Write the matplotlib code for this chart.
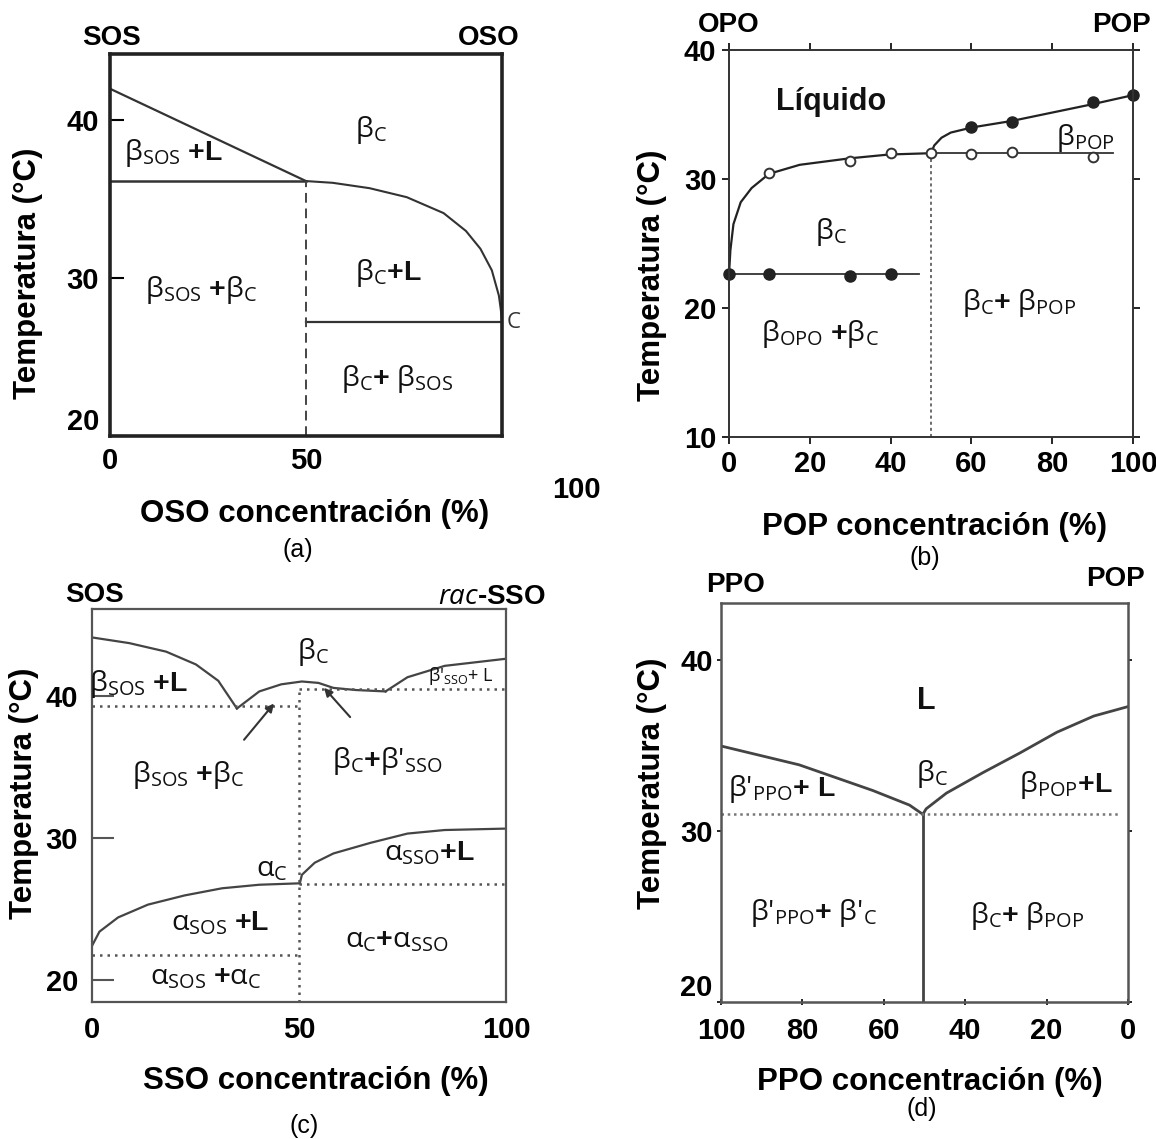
import numpy as np
import matplotlib
matplotlib.use('Agg')
import matplotlib.pyplot as plt

plt.rcParams['mathtext.fontset'] = 'custom'
plt.rcParams['mathtext.rm'] = 'Open Sans'
plt.rcParams['mathtext.it'] = 'Open Sans:italic'
plt.rcParams['mathtext.bf'] = 'Liberation Sans:bold'

W, H = 1156, 1139
EJE = ['Liberation Sans', 'DejaVu Sans']
FASE = ['Open Sans', 'DejaVu Sans']

# ---------------- (a) SOS - OSO ----------------
a_liq_x = [0, 50]
a_liq_t = [42.0, 36.15]
a_eut_t = 36.15
a_curva_x = [50, 56.8, 66.2, 75.7, 85.1, 90.8, 94.5, 97.4, 99.2, 99.7, 100]
a_curva_t = [36.15, 36.04, 35.70, 35.13, 34.12, 32.99, 31.86, 30.5, 28.9, 28.0, 27.2]
a_per_t = 27.2

# ---------------- (b) OPO - POP ----------------
b_sol_x = [0, 10, 30, 40]
b_sol_t = [22.6, 22.6, 22.5, 22.6]
b_abierto_x = [10, 30, 40, 50, 60, 70, 90]
b_abierto_t = [30.5, 31.4, 32.0, 32.0, 31.9, 32.1, 31.7]
b_liq_x = [60, 70, 90, 100]
b_liq_t = [34.0, 34.4, 36.0, 36.5]
b_curva1_x = [0, 0.35, 1.1, 2.9, 5.6, 9.9, 17.5, 29.8, 39.7, 50]
b_curva1_t = [22.6, 24.5, 26.5, 28.2, 29.3, 30.4, 31.1, 31.6, 31.9, 32.0]
b_curva2_x = [50, 50.8, 52.6, 54.9, 60.2, 70, 90, 100]
b_curva2_t = [32.0, 32.6, 33.2, 33.6, 34.0, 34.5, 35.8, 36.5]

# ---------------- (c) SOS - rac-SSO ----------------
c_liq1_x = [0, 9, 17.9, 25.1, 30.5, 35]
c_liq1_t = [44.1, 43.7, 43.1, 42.2, 41.05, 39.1]
c_liq2_x = [35, 40.4, 45.7, 50.7, 54.7, 58.3, 63.7, 70.9]
c_liq2_t = [39.1, 40.3, 40.8, 41.0, 40.9, 40.55, 40.4, 40.3]
c_liq3_x = [70.9, 76.2, 85.2, 100]
c_liq3_t = [40.3, 41.3, 42.1, 42.6]
c_alfa1_x = [0, 1.8, 6.3, 13.5, 22.4, 31.4, 40.4, 50.2]
c_alfa1_t = [22.4, 23.4, 24.4, 25.3, 25.95, 26.45, 26.7, 26.8]
c_alfa2_x = [50.2, 50.7, 53.8, 58.3, 67.3, 76.2, 85.2, 100]
c_alfa2_t = [26.8, 27.4, 28.25, 28.9, 29.65, 30.3, 30.55, 30.65]
c_pun_t = [39.26, 40.46, 26.78, 21.74]

# ---------------- (d) PPO - POP ----------------
d_izq_x = [100, 80.8, 62.7, 53.7, 50.4]
d_izq_t = [34.95, 33.85, 32.35, 31.5, 30.96]
d_der_x = [50.4, 49.6, 44.6, 35.6, 26.5, 17.5, 8.4, 0]
d_der_t = [30.96, 31.28, 32.2, 33.4, 34.55, 35.75, 36.7, 37.25]
d_pun_t = 30.96

TAM_EJE = 22.5    # titulos de eje
TAM_TICK = 21     # numeros
TAM_FASE = 20.5   # etiquetas de fase
TAM_ESQ = 20      # SOS, OSO...

fig = plt.figure(figsize=(11.56, 11.39), dpi=100)


def caja(x0, y0, x1, y1):
    return fig.add_axes([x0 / W, 1 - y1 / H, (x1 - x0) / W, (y1 - y0) / H])


def ft(px, py, s, size=TAM_EJE, **kw):
    fig.text(px / W, 1 - py / H, s, ha='center', va='center', fontsize=size,
             family=EJE, **kw)


def fase(ax, x, t, s, size=TAM_FASE, **kw):
    ax.text(x, t, s, ha='center', va='center', fontsize=size, color='#111', **kw)


def bordes(ax, lw, color):
    for sp in ax.spines.values():
        sp.set_linewidth(lw)
        sp.set_color(color)


def ticklabels(ax):
    for lb in ax.get_xticklabels() + ax.get_yticklabels():
        lb.set_fontweight('bold')
        lb.set_family(EJE)
        lb.set_fontsize(TAM_TICK)


def f(ax, x, t, s, size=TAM_FASE):
    fase(ax, x, t, s, size=size, family=FASE)


def negrita(ax, x, t, s, size):
    fase(ax, x, t, s, size=size, family=EJE, fontweight='bold')


# ===== (a) =====
ax = caja(110, 54, 502, 436)
ax.set_xlim(0, 100)
ax.set_ylim(20, 44.2)
bordes(ax, 2.6, '#222')
ax.plot(a_liq_x, a_liq_t, color='#333', lw=1.6)
ax.plot([0, 50], [a_eut_t, a_eut_t], color='#333', lw=1.8)
ax.plot(a_curva_x, a_curva_t, color='#333', lw=1.5)
ax.plot([50, 100], [a_per_t, a_per_t], color='#333', lw=1.6)
ax.plot([50, 50], [20, a_eut_t], color='#444', lw=1.4, ls=(0, (5, 3)))
ax.text(101.2, a_per_t, 'C', ha='left', va='center', fontsize=16,
        family=FASE, color='#333')
ax.set_yticks([20, 30, 40])
ax.set_xticks([0, 50])
ax.tick_params(axis='y', direction='in', length=10, width=1.5, pad=8)
ax.tick_params(axis='x', length=0, pad=8)
ticklabels(ax)
ax.get_yticklabels()[0].set_verticalalignment('bottom')
f(ax, 16.2, 37.95, r'β$_{\mathrm{SOS}}$ $\mathbf{+L}$')
f(ax, 66.7, 39.4, r'β$_{\mathrm{C}}$')
f(ax, 23.3, 29.25, r'β$_{\mathrm{SOS}}$ $\mathbf{+}$β$_{\mathrm{C}}$')
f(ax, 70.9, 30.3, r'β$_{\mathrm{C}}\mathbf{+L}$')
f(ax, 73.3, 23.6, r'β$_{\mathrm{C}}\mathbf{+}$ β$_{\mathrm{SOS}}$')
ft(28, 273, 'Temperatura (°C)', rotation=90, fontweight='bold')
ft(315, 514, 'OSO concentración (%)', fontweight='bold')
ft(298, 550, '(a)', size=18)
ft(112, 38, 'SOS', size=TAM_ESQ, fontweight='bold')
ft(489, 38, 'OSO', size=TAM_ESQ, fontweight='bold')
ft(576, 490, '100', size=TAM_TICK, fontweight='bold')

# ===== (b) =====
ax = caja(729, 50, 1133, 437)
ax.set_xlim(0, 100)
ax.set_ylim(10, 40)
bordes(ax, 1.4, '#333')
ax.plot(b_curva1_x, b_curva1_t, color='#222', lw=1.6)
ax.plot(b_curva2_x, b_curva2_t, color='#222', lw=1.6)
ax.plot([50, 95], [32.0, 32.0], color='#333', lw=1.3)
ax.plot([0, 47], [22.6, 22.6], color='#333', lw=1.3)
ax.plot([50, 50], [10, 32.0], color='#444', lw=1.1, ls=(0, (2, 2)))
ax.plot(b_sol_x, b_sol_t, 'o', color='#222', ms=8, clip_on=False)
ax.plot(b_liq_x, b_liq_t, 'o', color='#222', ms=8, clip_on=False)
ax.plot(b_abierto_x, b_abierto_t, 'o', mfc='white', mec='#333', mew=1.4, ms=7)
ax.set_yticks([10, 20, 30, 40])
ax.set_xticks([0, 20, 40, 60, 80, 100])
ax.tick_params(direction='out', length=5, width=1.2, top=True, right=True,
               pad=4)
ticklabels(ax)
negrita(ax, 25.3, 35.95, 'Líquido', 22)
f(ax, 25.3, 25.9, r'β$_{\mathrm{C}}$')
f(ax, 88.2, 33.2, r'β$_{\mathrm{POP}}$')
f(ax, 22.5, 18.0, r'β$_{\mathrm{OPO}}$ $\mathbf{+}$β$_{\mathrm{C}}$')
f(ax, 71.7, 20.4, r'β$_{\mathrm{C}}\mathbf{+}$ β$_{\mathrm{POP}}$')
ft(652, 275, 'Temperatura (°C)', rotation=90, fontweight='bold')
ft(934, 527, 'POP concentración (%)', fontweight='bold')
ft(925, 558, '(b)', size=18)
ft(729, 25, 'OPO', size=TAM_ESQ, fontweight='bold')
ft(1121, 25, 'POP', size=TAM_ESQ, fontweight='bold')

# ===== (c) =====
ax = caja(92, 609, 506, 1002)
ax.set_xlim(0, 100)
ax.set_ylim(18.45, 46.1)
bordes(ax, 1.6, '#555')
for xs, ts in [(c_liq1_x, c_liq1_t), (c_liq2_x, c_liq2_t), (c_liq3_x, c_liq3_t),
               (c_alfa1_x, c_alfa1_t), (c_alfa2_x, c_alfa2_t)]:
    ax.plot(xs, ts, color='#444', lw=1.6)
pun = dict(color='#555', lw=1.8, ls=(0, (1, 2)))
ax.plot([0, 50], [c_pun_t[0]] * 2, **pun)
ax.plot([50, 100], [c_pun_t[1]] * 2, **pun)
ax.plot([50, 100], [c_pun_t[2]] * 2, **pun)
ax.plot([0, 50], [c_pun_t[3]] * 2, **pun)
ax.plot([50, 50], [18.45, c_pun_t[1]], **pun)
flecha = dict(arrowstyle='-|>', color='#333', lw=1.5, mutation_scale=12)
ax.annotate('', xy=(44.4, 39.6), xytext=(36.3, 36.75), arrowprops=flecha)
ax.annotate('', xy=(55.6, 40.7), xytext=(62.8, 38.35), arrowprops=flecha)
ax.set_yticks([20, 30, 40])
ax.set_xticks([0, 50, 100])
ax.tick_params(axis='y', direction='in', length=16, width=1.5, color='#555',
               pad=10)
ax.tick_params(axis='x', length=0, pad=10)
ticklabels(ax)
f(ax, 11.2, 40.8, r'β$_{\mathrm{SOS}}$ $\mathbf{+L}$')
f(ax, 53.4, 43.1, r'β$_{\mathrm{C}}$')
f(ax, 89.0, 41.4, r"β'$_{\mathrm{SSO}}$+ L", size=13)
f(ax, 23.3, 34.4, r'β$_{\mathrm{SOS}}$ $\mathbf{+}$β$_{\mathrm{C}}$')
f(ax, 71.3, 35.4, r"β$_{\mathrm{C}}\mathbf{+}$β'$_{\mathrm{SSO}}$")
f(ax, 43.5, 27.75, r'α$_{\mathrm{C}}$')
f(ax, 81.6, 28.9, r'α$_{\mathrm{SSO}}\mathbf{+L}$')
f(ax, 30.9, 24.0, r'α$_{\mathrm{SOS}}$ $\mathbf{+L}$')
f(ax, 73.5, 22.75, r'α$_{\mathrm{C}}\mathbf{+}$α$_{\mathrm{SSO}}$')
f(ax, 27.4, 20.2, r'α$_{\mathrm{SOS}}$ $\mathbf{+}$α$_{\mathrm{C}}$')
ft(24, 793, 'Temperatura (°C)', rotation=90, fontweight='bold')
ft(316, 1081, 'SSO concentración (%)', fontweight='bold')
ft(304, 1126, '(c)', size=18)
ft(95, 595, 'SOS', size=TAM_ESQ, fontweight='bold')
fig.text(546 / W, 1 - 597 / H, r'$\mathit{rac}$-SSO', ha='right', va='center',
         fontsize=TAM_ESQ, fontweight='bold', family=EJE)

# ===== (d) =====
ax = caja(721, 603, 1128, 1002)
ax.set_xlim(100, 0)
ax.set_ylim(20, 43.3)
bordes(ax, 1.8, '#555')
ax.plot(d_izq_x, d_izq_t, color='#444', lw=2.0)
ax.plot(d_der_x, d_der_t, color='#444', lw=2.0)
ax.plot([50.4, 50.4], [20, d_pun_t], color='#444', lw=2.0)
ax.plot([100, 2.5], [d_pun_t, d_pun_t], color='#777', lw=1.8, ls=(0, (1, 1.5)))
ax.set_yticks([20, 30, 40])
ax.set_xticks([100, 80, 60, 40, 20, 0])
ax.tick_params(axis='y', direction='out', length=3, width=1.2, right=True, pad=3)
ax.tick_params(axis='x', direction='inout', length=5, width=1.2, pad=8)
ticklabels(ax)
# el "20" del eje y queda un poco por encima, como en el original
ax.get_yticklabels()[0].set_verticalalignment('bottom')
negrita(ax, 49.6, 37.55, 'L', 22)
f(ax, 48.2, 33.3, r'β$_{\mathrm{C}}$')
f(ax, 84.9, 32.45, r"β'$_{\mathrm{PPO}}\mathbf{+\ L}$")
f(ax, 15.2, 32.65, r'β$_{\mathrm{POP}}\mathbf{+L}$')
f(ax, 77.2, 25.2, r"β'$_{\mathrm{PPO}}\mathbf{+}$ β'$_{\mathrm{C}}$")
f(ax, 24.7, 25.0, r'β$_{\mathrm{C}}\mathbf{+}$ β$_{\mathrm{POP}}$')
ft(652, 783, 'Temperatura (°C)', rotation=90, fontweight='bold')
ft(930, 1082, 'PPO concentración (%)', fontweight='bold')
ft(922, 1109, '(d)', size=18)
ft(735, 585, 'PPO', size=TAM_ESQ, fontweight='bold')
ft(1116, 579, 'POP', size=TAM_ESQ, fontweight='bold')

fig.savefig('out.png', dpi=100)
